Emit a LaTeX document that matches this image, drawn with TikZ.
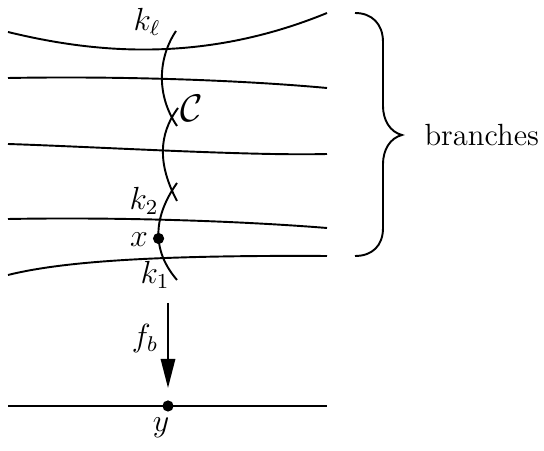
\documentclass[tikz,border=0pt]{standalone}
\usetikzlibrary{arrows.meta}
\begin{document}
\begin{tikzpicture}[x=0.375pt,y=-0.375pt,
  line/.style={line width=0.72pt},
  dotnode/.style={circle,fill=black,inner sep=0pt,minimum size=4.2pt},
  lbl/.style={inner sep=0pt,font=\fontsize{11.5}{13}\selectfont},
  bigarrow/.style={line width=0.72pt,-{Triangle[length=10.9pt,width=5.4pt]}}]
\useasboundingbox (0,0) rectangle (544,451);
% branches
\draw[line] (8,32) .. controls (90,52) and (200,65) .. (327,13);
\draw[line] (8,78) .. controls (120,76) and (240,80) .. (327,88);
\draw[line] (8,144) .. controls (100,147) and (250,156) .. (327,154);
\draw[line] (8,219) .. controls (120,217) and (240,221) .. (327,228);
\draw[line] (8,275) .. controls (60,262) and (150,255) .. (327,256);
% curve C pieces
\draw[line] (176,31) .. controls (158,58) and (156,95) .. (177,126);
\draw[line] (178,108) .. controls (158,135) and (158,165) .. (177,201);
\draw[line] (177,183) .. controls (158,210) and (147,245) .. coordinate[pos=0.6] (xpt) (177,280);
\node[dotnode] (xdot) at (xpt) {};
% labels
\node[lbl] (kl) at (147,22) {$k_\ell$};
\node[lbl,font=\fontsize{13.5}{15}\selectfont] (C) at (192,108) {$\mathcal{C}$};
\node[lbl] (k2) at (144,201) {$k_2$};
\node[lbl] (xl) at (139,240) {$x$};
\node[lbl] (k1) at (155,275) {$k_1$};
% brace
\draw[line] (355,13) .. controls (372,13) and (383,24) .. (383,42) -- (383,106)
  .. controls (383,120) and (390,132) .. (402,135)
  .. controls (390,138) and (383,150) .. (383,164) -- (383,228)
  .. controls (383,246) and (372,256) .. (355,256);
\node[lbl,font=\fontsize{11.5}{13}\selectfont,anchor=west] (br) at (424,135) {branches};
% projection
\coordinate (atop) at (168,303);
\node[dotnode] (ydot) at (168,406) {};
\coordinate (aend) at (168,388);
\draw[bigarrow] (atop) -- (aend);
\node[lbl] (fb) at (145,339) {$f_b$};
\coordinate (bl) at (8,406);
\coordinate (br2) at (327,406);
\draw[line] (bl) -- (br2);
\node[lbl] (yl) at (161,428) {$y$};
\end{tikzpicture}
\end{document}
